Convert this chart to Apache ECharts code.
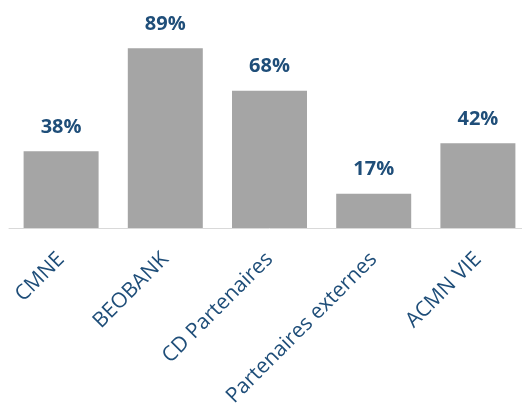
<!DOCTYPE html>
<html>
<head>
<meta charset="utf-8">
<script src="https://cdn.jsdelivr.net/npm/echarts@6/dist/echarts.min.js"></script>
<style>html,body{margin:0;padding:0;background:#fff;overflow:hidden}#c{width:530px;height:405px}</style>
</head>
<body>
<div id="c"></div>
<script>
var categories = ["CMNE", "BEOBANK", "CD Partenaires", "Partenaires externes", "ACMN VIE"];
var values = [38, 89, 68, 17, 42];

var chart = echarts.init(document.getElementById('c'), null, {renderer: 'canvas'});
chart.setOption({
  animation: false,
  grid: {left: 9, right: 0, top: 26, bottom: 177, containLabel: false, outerBoundsMode: 'none'},
  xAxis: {
    type: 'category',
    data: categories,
    axisLine: {show: true, lineStyle: {color: '#D9D9D9', width: 1}},
    axisTick: {show: false},
    axisLabel: {
      interval: 0,
      rotate: 45,
      margin: 28,
      fontFamily: 'Open Sans',
      fontSize: 21,
      color: '#1F4E79'
    }
  },
  yAxis: {type: 'value', min: 0, max: 100, show: false, splitLine: {show: false}},
  series: [{
    type: 'bar',
    data: values,
    barWidth: 75,
    itemStyle: {color: '#A5A5A5'},
    label: {
      show: true,
      position: 'top',
      distance: 14,
      formatter: '{c}%',
      fontFamily: 'Open Sans',
      fontWeight: 'bold',
      fontSize: 20,
      color: '#1F4E79'
    }
  }]
});
</script>
</body>
</html>
